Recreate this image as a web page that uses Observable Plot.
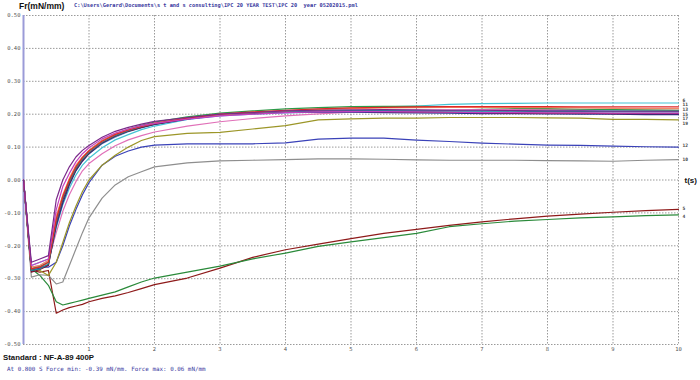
<!DOCTYPE html>
<html><head><meta charset="utf-8">
<script src="https://cdn.jsdelivr.net/npm/d3@7"></script>
<script src="https://cdn.jsdelivr.net/npm/@observablehq/plot@0.6"></script>
<style>
body{margin:0;background:#fff;}
#wrap{position:relative;width:700px;height:380px;overflow:hidden;}
#chart{position:absolute;left:0;top:0;}
.t{position:absolute;white-space:pre;line-height:1;}
</style></head><body>
<div id="wrap">
<div id="chart"></div>
<div class="t" style="left:19px;top:1px;font:bold 8.5px 'Liberation Sans',Arial,sans-serif;color:#111;">Fr(mN/mm)</div>
<div class="t" style="left:74px;top:2px;font:bold 5.3px 'DejaVu Sans Mono',monospace;color:#3a3a9e;">C:\Users\Gerard\Documents\s t and s consulting\IPC 20 YEAR TEST\IPC 20  year 05202015.pml</div>
<div class="t" style="left:3px;top:353px;font:bold 7.8px 'Liberation Sans',Arial,sans-serif;color:#111;">Standard : NF-A-89 400P</div>
<div class="t" style="left:7px;top:366px;font:5.9px 'DejaVu Sans Mono',monospace;color:#3a3a9e;">At 0.800 S Force min: -0.39 mN/mm. Force max: 0.06 mN/mm</div>
</div>
<script>
// time samples (s)
const times = [0, 0.12, 0.25, 0.38, 0.5, 0.6, 0.7, 0.8, 0.9, 1.0, 1.2, 1.4, 1.6, 1.8, 2.0, 2.5, 3.0, 3.5, 4.0, 4.5, 5.0, 5.5, 6.0, 6.5, 7.0, 7.5, 8.0, 8.5, 9.0, 9.5, 10.0];

// force values (mN/mm), one array per curve
const s5  = [0, -0.275, -0.28, -0.275, -0.405, -0.395, -0.388, -0.383, -0.378, -0.37, -0.36, -0.352, -0.342, -0.33, -0.318, -0.298, -0.268, -0.235, -0.212, -0.195, -0.178, -0.162, -0.15, -0.138, -0.127, -0.118, -0.11, -0.104, -0.098, -0.093, -0.089];
const s4  = [0, -0.27, -0.29, -0.32, -0.37, -0.38, -0.375, -0.37, -0.365, -0.36, -0.35, -0.34, -0.325, -0.31, -0.298, -0.28, -0.262, -0.24, -0.222, -0.202, -0.188, -0.175, -0.162, -0.142, -0.133, -0.125, -0.12, -0.115, -0.112, -0.108, -0.106];
const s10 = [0, -0.295, -0.288, -0.29, -0.316, -0.31, -0.26, -0.21, -0.16, -0.115, -0.055, -0.015, 0.01, 0.025, 0.04, 0.052, 0.058, 0.06, 0.062, 0.064, 0.064, 0.063, 0.061, 0.06, 0.06, 0.06, 0.059, 0.058, 0.057, 0.06, 0.062];
const s12 = [0, -0.27, -0.265, -0.265, -0.25, -0.2, -0.14, -0.09, -0.045, -0.008, 0.045, 0.072, 0.088, 0.1, 0.106, 0.11, 0.11, 0.11, 0.113, 0.124, 0.127, 0.127, 0.121, 0.117, 0.112, 0.109, 0.106, 0.105, 0.103, 0.101, 0.1];
const s19 = [0, -0.27, -0.275, -0.29, -0.25, -0.19, -0.13, -0.08, -0.035, 0.0, 0.045, 0.075, 0.1, 0.12, 0.132, 0.142, 0.145, 0.155, 0.165, 0.183, 0.186, 0.188, 0.188, 0.19, 0.19, 0.19, 0.189, 0.188, 0.184, 0.184, 0.183];
const sPink = [0, -0.265, -0.26, -0.245, -0.16, -0.095, -0.045, -0.005, 0.028, 0.05, 0.08, 0.104, 0.122, 0.135, 0.146, 0.164, 0.177, 0.187, 0.195, 0.201, 0.206, 0.21, 0.212, 0.213, 0.214, 0.214, 0.214, 0.213, 0.213, 0.212, 0.212];
const s6  = [0, -0.26, -0.25, -0.24, -0.145, -0.075, -0.025, 0.015, 0.045, 0.066, 0.098, 0.122, 0.138, 0.153, 0.164, 0.184, 0.197, 0.205, 0.21, 0.215, 0.218, 0.222, 0.225, 0.23, 0.232, 0.233, 0.234, 0.234, 0.234, 0.234, 0.234];
const sLtBlue = [0, -0.27, -0.265, -0.25, -0.13, -0.06, -0.01, 0.03, 0.06, 0.08, 0.11, 0.13, 0.147, 0.158, 0.168, 0.184, 0.195, 0.2, 0.204, 0.206, 0.208, 0.209, 0.21, 0.21, 0.21, 0.21, 0.21, 0.21, 0.21, 0.21, 0.21];
const sNavy = [0, -0.275, -0.268, -0.258, -0.14, -0.07, -0.015, 0.028, 0.057, 0.08, 0.112, 0.133, 0.149, 0.16, 0.169, 0.186, 0.197, 0.203, 0.206, 0.206, 0.206, 0.205, 0.204, 0.203, 0.202, 0.202, 0.201, 0.2, 0.2, 0.199, 0.199];
const sDkRed = [0, -0.28, -0.272, -0.26, -0.13, -0.06, -0.01, 0.032, 0.06, 0.082, 0.113, 0.133, 0.148, 0.16, 0.17, 0.186, 0.197, 0.203, 0.207, 0.209, 0.209, 0.208, 0.207, 0.206, 0.205, 0.204, 0.203, 0.203, 0.202, 0.202, 0.202];
const sTeal = [0, -0.275, -0.27, -0.255, -0.125, -0.055, -0.005, 0.035, 0.063, 0.084, 0.115, 0.135, 0.15, 0.162, 0.171, 0.187, 0.198, 0.204, 0.208, 0.21, 0.211, 0.211, 0.21, 0.21, 0.209, 0.209, 0.208, 0.208, 0.207, 0.207, 0.207];
const sGreen = [0, -0.27, -0.262, -0.25, -0.115, -0.05, 0.0, 0.04, 0.068, 0.09, 0.12, 0.14, 0.155, 0.166, 0.176, 0.192, 0.203, 0.21, 0.216, 0.22, 0.223, 0.224, 0.224, 0.222, 0.22, 0.218, 0.217, 0.215, 0.214, 0.213, 0.212];
const sSalmon = [0, -0.265, -0.26, -0.245, -0.11, -0.045, 0.005, 0.045, 0.07, 0.09, 0.12, 0.14, 0.154, 0.164, 0.173, 0.188, 0.198, 0.205, 0.21, 0.214, 0.217, 0.219, 0.22, 0.221, 0.221, 0.22, 0.22, 0.219, 0.218, 0.217, 0.217];
const sRed = [0, -0.27, -0.265, -0.25, -0.12, -0.05, 0.0, 0.04, 0.068, 0.088, 0.118, 0.138, 0.152, 0.163, 0.172, 0.188, 0.2, 0.207, 0.212, 0.216, 0.219, 0.221, 0.222, 0.223, 0.223, 0.223, 0.223, 0.222, 0.222, 0.222, 0.222];
const sMagenta = [0, -0.26, -0.25, -0.24, -0.09, -0.02, 0.02, 0.055, 0.08, 0.098, 0.125, 0.143, 0.155, 0.165, 0.172, 0.185, 0.195, 0.2, 0.205, 0.207, 0.208, 0.208, 0.207, 0.206, 0.205, 0.205, 0.204, 0.204, 0.203, 0.203, 0.203];
const sPurple = [0, -0.25, -0.24, -0.23, -0.06, 0.0, 0.04, 0.07, 0.09, 0.105, 0.13, 0.148, 0.16, 0.17, 0.178, 0.19, 0.2, 0.205, 0.21, 0.212, 0.213, 0.214, 0.213, 0.212, 0.212, 0.211, 0.21, 0.21, 0.209, 0.209, 0.209];

const seriesIds = ["5", "4", "10", "12", "19", "pink", "6", "ltblue", "navy", "dkred", "teal", "green", "salmon", "red", "magenta", "purple"];
const seriesValues = [s5, s4, s10, s12, s19, sPink, s6, sLtBlue, sNavy, sDkRed, sTeal, sGreen, sSalmon, sRed, sMagenta, sPurple];
const seriesColors = ["#8e1a1a", "#2a8a3a", "#8e8e8e", "#3a42b8", "#9c9628", "#e070b8", "#44c4d4", "#5aa0e0", "#2a2e8a", "#7a1030", "#1f8a9a", "#2e9a48", "#f08a68", "#e02828", "#c53fc0", "#7a2a8a"];

// tick labels
const xTicks = [1, 2, 3, 4, 5, 6, 7, 8, 9, 10];
const yTicks = [-0.5, -0.4, -0.3, -0.2, -0.1, 0, 0.1, 0.2, 0.3, 0.4, 0.5];

// curve end labels
const endLabelText = ["6", "11", "13", "15", "17", "19", "12", "10", "5", "4"];
const endLabelValue = [0.242, 0.228, 0.214, 0.200, 0.186, 0.172, 0.106, 0.063, -0.087, -0.110];

const rows = [];
seriesIds.forEach((id, k) => seriesValues[k].forEach((v, i) => rows.push({id, t: times[i], f: v})));
const endLabels = endLabelText.map((text, i) => ({text, t: 10, f: endLabelValue[i]}));

const chart = Plot.plot({
  width: 700, height: 380,
  marginTop: 15, marginBottom: 36, marginLeft: 23, marginRight: 22,
  x: {domain: [0, 10], label: null},
  y: {domain: [-0.5, 0.5], label: null},
  color: {type: "ordinal", domain: seriesIds, range: seriesColors},
  style: {fontFamily: "'DejaVu Sans Mono', monospace", fontSize: "5.5px", color: "#555", background: "#fff"},
  marks: [
    Plot.gridX(xTicks, {stroke: "#9a9a9a", strokeOpacity: 1, strokeDasharray: "1.5,1.5"}),
    Plot.gridY(yTicks, {stroke: "#9a9a9a", strokeOpacity: 1, strokeDasharray: "1.5,1.5"}),
    Plot.axisX(xTicks, {tickSize: 0, tickPadding: 3, label: null, fill: "#555"}),
    Plot.axisY(yTicks, {tickSize: 0, tickPadding: 3, label: null, fill: "#555", tickFormat: d => d.toFixed(2)}),
    Plot.ruleX([0], {stroke: "#9b9bd8", strokeWidth: 2}),
    Plot.line(rows, {x: "t", y: "f", z: "id", stroke: "id", strokeWidth: 1.2, curve: "linear"}),
    Plot.text(endLabels, {x: "t", y: "f", text: "text", dx: 4, textAnchor: "start", fill: "#444", fontWeight: "bold", fontSize: 4.6}),
    Plot.text([{t: 10, f: 0}], {x: "t", y: "f", text: () => "t(s)", dx: 6, textAnchor: "start", fill: "#111", fontWeight: "bold", fontSize: 8, fontFamily: "'Liberation Sans', Arial, sans-serif"})
  ]
});
document.getElementById("chart").appendChild(chart);
</script>
</body></html>
